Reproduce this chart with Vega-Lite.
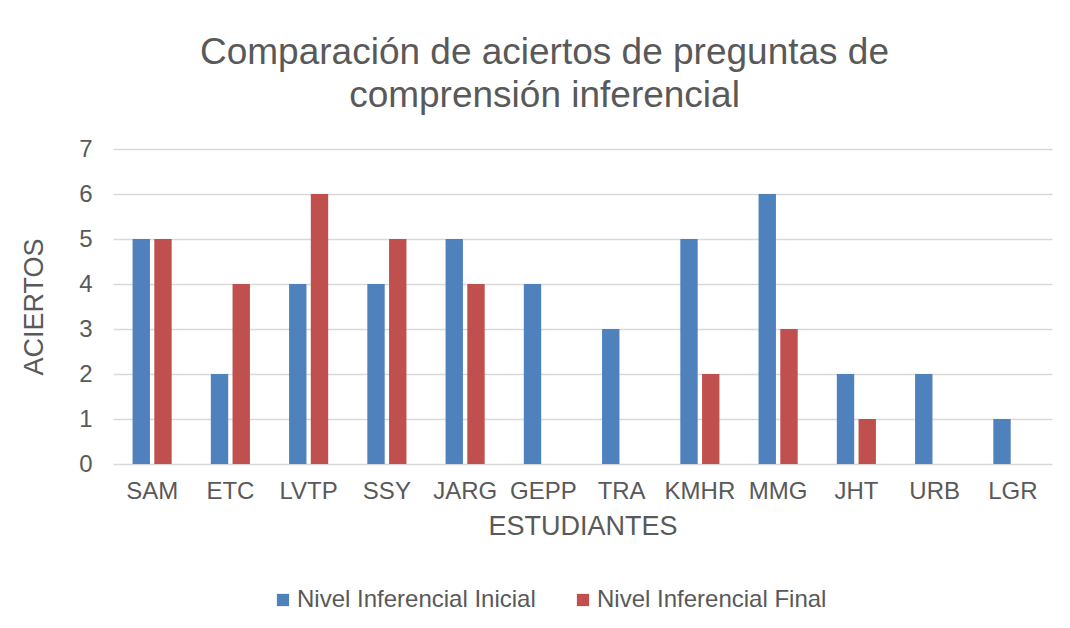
{
  "$schema": "https://vega.github.io/schema/vega-lite/v6.json",
  "autosize": {"type": "none"},
  "width": 939,
  "height": 315,
  "padding": {"left": 113, "top": 149, "right": 18, "bottom": 164},
  "background": "white",
  "title": {
    "text": ["Comparación de aciertos de preguntas de", "comprensión inferencial"],
    "font": "Liberation Sans",
    "fontSize": 37,
    "fontWeight": "normal",
    "color": "#595959",
    "anchor": "middle",
    "frame": "group",
    "dx": -38,
    "offset": 22,
    "lineHeight": 43
  },
  "data": {
    "values": [
      {"estudiante": "SAM", "serie": "Nivel Inferencial Inicial", "aciertos": 5},
      {"estudiante": "SAM", "serie": "Nivel Inferencial Final", "aciertos": 5},
      {"estudiante": "ETC", "serie": "Nivel Inferencial Inicial", "aciertos": 2},
      {"estudiante": "ETC", "serie": "Nivel Inferencial Final", "aciertos": 4},
      {"estudiante": "LVTP", "serie": "Nivel Inferencial Inicial", "aciertos": 4},
      {"estudiante": "LVTP", "serie": "Nivel Inferencial Final", "aciertos": 6},
      {"estudiante": "SSY", "serie": "Nivel Inferencial Inicial", "aciertos": 4},
      {"estudiante": "SSY", "serie": "Nivel Inferencial Final", "aciertos": 5},
      {"estudiante": "JARG", "serie": "Nivel Inferencial Inicial", "aciertos": 5},
      {"estudiante": "JARG", "serie": "Nivel Inferencial Final", "aciertos": 4},
      {"estudiante": "GEPP", "serie": "Nivel Inferencial Inicial", "aciertos": 4},
      {"estudiante": "GEPP", "serie": "Nivel Inferencial Final", "aciertos": 0},
      {"estudiante": "TRA", "serie": "Nivel Inferencial Inicial", "aciertos": 3},
      {"estudiante": "TRA", "serie": "Nivel Inferencial Final", "aciertos": 0},
      {"estudiante": "KMHR", "serie": "Nivel Inferencial Inicial", "aciertos": 5},
      {"estudiante": "KMHR", "serie": "Nivel Inferencial Final", "aciertos": 2},
      {"estudiante": "MMG", "serie": "Nivel Inferencial Inicial", "aciertos": 6},
      {"estudiante": "MMG", "serie": "Nivel Inferencial Final", "aciertos": 3},
      {"estudiante": "JHT", "serie": "Nivel Inferencial Inicial", "aciertos": 2},
      {"estudiante": "JHT", "serie": "Nivel Inferencial Final", "aciertos": 1},
      {"estudiante": "URB", "serie": "Nivel Inferencial Inicial", "aciertos": 2},
      {"estudiante": "URB", "serie": "Nivel Inferencial Final", "aciertos": 0},
      {"estudiante": "LGR", "serie": "Nivel Inferencial Inicial", "aciertos": 1},
      {"estudiante": "LGR", "serie": "Nivel Inferencial Final", "aciertos": 0}
    ]
  },
  "mark": {"type": "bar"},
  "encoding": {
    "x": {
      "field": "estudiante",
      "type": "nominal",
      "sort": null,
      "title": "ESTUDIANTES",
      "scale": {"paddingInner": 0.5, "paddingOuter": 0.25},
      "axis": {
        "labelAngle": 0,
        "labelFont": "Liberation Sans",
        "labelFontSize": 24,
        "labelColor": "#595959",
        "labelPadding": 15,
        "titleFont": "Liberation Sans",
        "titleFontSize": 27,
        "titleFontWeight": "normal",
        "titleColor": "#595959",
        "titlePadding": 10,
        "ticks": false,
        "domain": false
      }
    },
    "xOffset": {
      "field": "serie",
      "type": "nominal",
      "sort": ["Nivel Inferencial Inicial", "Nivel Inferencial Final"],
      "scale": {"paddingInner": 0.2}
    },
    "y": {
      "field": "aciertos",
      "type": "quantitative",
      "title": "ACIERTOS",
      "scale": {"domain": [0, 7]},
      "axis": {
        "values": [0, 1, 2, 3, 4, 5, 6, 7],
        "labelFont": "Liberation Sans",
        "labelFontSize": 24,
        "labelColor": "#595959",
        "labelPadding": 21,
        "titleFont": "Liberation Sans",
        "titleFontSize": 27,
        "titleFontWeight": "normal",
        "titleColor": "#595959",
        "titlePadding": 30,
        "ticks": false,
        "domain": false,
        "gridColor": "#d9d9d9",
        "gridWidth": 1.5
      }
    },
    "color": {
      "field": "serie",
      "type": "nominal",
      "sort": ["Nivel Inferencial Inicial", "Nivel Inferencial Final"],
      "scale": {
        "domain": ["Nivel Inferencial Inicial", "Nivel Inferencial Final"],
        "range": ["#4F81BD", "#C0504D"]
      },
      "legend": {
        "title": null,
        "orient": "none",
        "legendX": 158,
        "legendY": 439,
        "direction": "horizontal",
        "symbolType": "square",
        "symbolSize": 150,
        "symbolStrokeWidth": 0,
        "symbolOpacity": 1,
        "labelFont": "Liberation Sans",
        "labelFontSize": 24,
        "labelColor": "#595959",
        "labelOffset": 2,
        "labelLimit": 0,
        "columnPadding": 35
      }
    }
  },
  "config": {"view": {"stroke": null}}
}
